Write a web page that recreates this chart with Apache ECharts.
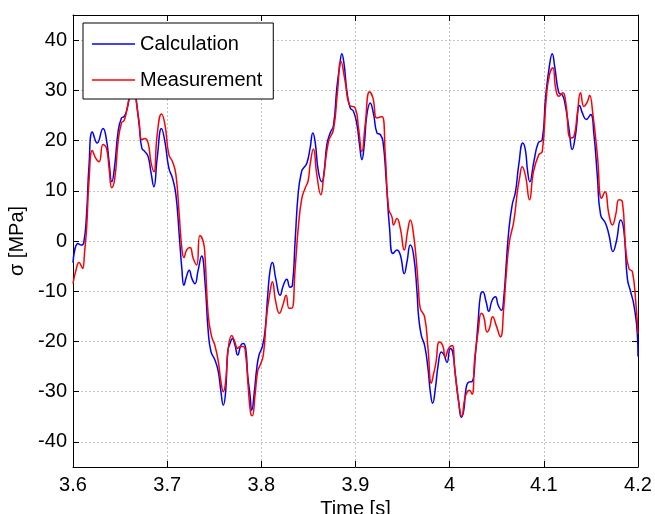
<!DOCTYPE html>
<html>
<head>
<meta charset="utf-8">
<script src="https://cdn.jsdelivr.net/npm/echarts@6/dist/echarts.min.js"></script>
<style>
html, body { margin: 0; padding: 0; background: #fff; }
#stress { width: 655px; height: 514px; }
</style>
</head>
<body>
<div id="stress"></div>
<script>
// time axis [s] and stress [MPa]
var calcTime = [3.6,3.6053,3.6089,3.6114,3.6143,3.6170,3.6206,3.6257,3.6319,3.6355,
    3.6383,3.6412,3.6444,3.6479,3.6515,3.6543,3.6568,3.6596,3.6619,3.6640,
    3.6656,3.6674,3.6702,3.6731,3.6763,3.6798,3.6827,3.6859,3.6894,3.6940,
    3.6976,3.7018,3.7057,3.7093,3.7128,3.7156,3.7178,3.7206,3.7234,3.7263,
    3.7295,3.7327,3.7366,3.7401,3.7436,3.7465,3.7507,3.7543,3.7571,3.7596,
    3.7621,3.7643,3.7667,3.7692,3.7720,3.7749,3.7784,3.7809,3.7834,3.7855,
    3.7880,3.7898,3.7926,3.7951,3.7976,3.8011,3.8039,3.8068,3.8093,3.8117,
    3.8153,3.8199,3.8234,3.8270,3.8305,3.8330,3.8359,3.8394,3.8430,3.8447,
    3.8483,3.8518,3.8547,3.8571,3.8606,3.8643,3.8667,3.8696,3.8731,3.8766,
    3.8802,3.8830,3.8855,3.8880,3.8909,3.8944,3.8979,3.9015,3.9043,3.9068,
    3.9093,3.9121,3.9156,3.9192,3.9228,3.9263,3.9292,3.9327,3.9362,3.9398,
    3.9440,3.9476,3.9518,3.9547,3.9582,3.9617,3.9653,3.9670,3.9699,3.9734,
    3.9770,3.9795,3.9819,3.9848,3.9877,3.9912,3.9940,3.9972,4.0007,4.0032,
    4.0061,4.0096,4.0124,4.0149,4.0174,4.0202,4.0238,4.0273,4.0302,4.0327,
    4.0351,4.0387,4.0415,4.0451,4.0486,4.0515,4.0550,4.0574,4.0600,4.0628,
    4.0664,4.0699,4.0734,4.0777,4.0805,4.0827,4.0851,4.0894,4.0940,4.0983,
    4.1018,4.1061,4.1089,4.1117,4.1160,4.1196,4.1223,4.1266,4.1302,4.1337,
    4.1380,4.1415,4.1451,4.1497,4.1532,4.1568,4.1603,4.1656,4.1692,4.1734,
    4.1770,4.1816,4.1851,4.1887,4.1922,4.1957,4.1994,4.2];
var calcSigma = [-4.3,-0.5,-0.8,-0.3,5,15,21.7,19.5,22.4,20.2,
    15.8,11.8,15.2,21.8,24.5,24.8,25.8,28.5,32,34,
    31,27.8,23.2,18.5,17.8,16.8,13.8,10.8,16.5,22.4,
    19.8,14.5,12.5,9.2,1.2,-5.5,-8.8,-7,-5.8,-7.5,
    -8.5,-6,-3,-8,-18,-22,-23.7,-26,-30,-32.7,
    -30,-22,-20.4,-19.4,-20.7,-22.7,-20.7,-20.4,-21.4,-26.7,
    -30.7,-33.7,-30,-25.4,-22.7,-21,-18,-10.8,-5.8,-4.3,
    -7.5,-10.8,-8.8,-7.6,-9.2,-8.8,0,10,14,14.5,
    15.5,18.5,21.5,19.8,13.8,11.8,13.8,19.2,21.5,23,
    30.5,34.5,37.3,35,29.8,26.5,25.8,23.2,19.2,16.2,
    19.2,25.2,27.5,25.2,21.5,21.2,19.8,11.8,2.5,-2.5,
    -1.8,-2.8,-6.5,-4.1,-0.8,-2.8,-10.1,-15,-18.8,-20.8,
    -25.4,-30.1,-32.3,-29.4,-24.8,-22.1,-22.7,-24.2,-21.4,-22.1,
    -26.7,-32.1,-35.1,-33.8,-29.4,-28.1,-28,-22.7,-16.1,-10.8,
    -10.1,-12.1,-14,-11.8,-11.1,-12.8,-13.8,-11.4,-4.8,2.1,
    7.2,9.8,15.2,19.5,18,14,11.8,15.8,19.5,20.2,
    28.5,35.1,37.3,34.5,29.5,29.1,27.5,22.5,18.2,21.2,
    27,25.2,24.2,25.2,21.2,13,5.2,3.5,1.2,-2.1,
    -0.1,4.2,1.9,-7.5,-10.1,-12.8,-18.8,-23];

var measTime = [3.6,3.6029,3.6064,3.6089,3.6103,3.6124,3.6146,3.6170,3.6206,3.6241,
    3.6277,3.6319,3.6355,3.6383,3.6412,3.6444,3.6479,3.6515,3.6543,3.6568,
    3.6596,3.6619,3.6640,3.6656,3.6674,3.6702,3.6731,3.6763,3.6798,3.6827,
    3.6859,3.6894,3.6940,3.6976,3.7018,3.7057,3.7093,3.7128,3.7156,3.7178,
    3.7206,3.7242,3.7277,3.7313,3.7348,3.7383,3.7401,3.7436,3.7472,3.7507,
    3.7543,3.7571,3.7596,3.7621,3.7649,3.7685,3.7713,3.7749,3.7773,3.7809,
    3.7834,3.7862,3.7887,3.7904,3.7933,3.7962,3.7986,3.8021,3.8057,3.8093,
    3.8117,3.8153,3.8192,3.8228,3.8263,3.8295,3.8323,3.8359,3.8394,3.8430,
    3.8465,3.8497,3.8518,3.8553,3.8589,3.8632,3.8660,3.8713,3.8766,3.8809,
    3.8845,3.8890,3.8936,3.8997,3.9032,3.9068,3.9103,3.9149,3.9185,3.9228,
    3.9281,3.9316,3.9351,3.9387,3.9404,3.9440,3.9476,3.9518,3.9553,3.9582,
    3.9617,3.9653,3.9670,3.9688,3.9734,3.9770,3.9805,3.9830,3.9855,3.9890,
    3.9926,3.9954,3.9989,4.0026,4.0053,4.0096,4.0128,4.0160,4.0185,4.0210,
    4.0238,4.0266,4.0302,4.0337,4.0362,4.0398,4.0422,4.0457,4.0494,4.0539,
    4.0574,4.0600,4.0635,4.0681,4.0720,4.0742,4.0770,4.0805,4.0848,4.0890,
    4.0947,4.0983,4.1026,4.1061,4.1096,4.1125,4.1160,4.1202,4.1231,4.1284,
    4.1319,4.1355,4.1390,4.1426,4.1462,4.1486,4.1521,4.1568,4.1614,4.1649,
    4.1692,4.1728,4.1763,4.1798,4.1834,4.1869,4.1904,4.1940,4.1976,4.2];
var measSigma = [-8.5,-6,-4.3,-5,-5.5,-2,3,12,18,16.5,
    15.8,19.2,18.5,14.5,10.6,12.5,19.8,23.5,24,25.8,
    28.5,31,33,31,27.5,23.8,20.2,20.4,19.5,15.8,
    13.8,21.2,25.3,23.2,17.2,15.8,13.2,5.2,-1.5,-3.3,
    -1.8,-1.3,-3.5,-4.8,1.1,-0.1,-2.8,-14.8,-19,-20.8,
    -24,-28,-30,-28,-21.4,-18.8,-19.8,-21.4,-21,-21,
    -22.7,-29.4,-34.4,-34.8,-30.7,-25.8,-24.8,-22.7,-14.8,-10.1,
    -8.1,-12.1,-14.4,-12.8,-10.8,-13.4,-13.4,-5.5,3,8.5,
    10.5,12,15.2,18.3,13.2,9.2,12.5,19.8,22.2,29.8,
    35.8,31.8,27.1,26.5,22.5,17.8,23.2,29.7,28.5,24.5,
    24.8,17.2,6.5,4.8,3.2,4.5,2.5,-1.8,1.9,4.2,
    1.2,-5.5,-10,-13.4,-15.1,-21.4,-28.3,-26.4,-24.1,-20.1,
    -20.8,-23.1,-21.4,-20.8,-25.4,-32.1,-34.9,-31.4,-30.1,-29.7,
    -30.5,-23.4,-18.1,-14.4,-15.1,-18.1,-17.4,-15.1,-16.8,-19.1,
    -13.4,-6.8,-0.1,3.9,10,12.5,14.8,13,8.2,13.8,
    17.2,17.8,28.5,33.2,34.5,30.5,28.8,29.5,27.8,20.5,
    20.8,25.2,29.5,26.8,27.7,29,25.2,17.2,8.5,9.8,
    5.2,3.2,5.2,8.2,7.8,-1.5,-5.5,-6.1,-12.1,-18.5];

var yTicks = [-40, -30, -20, -10, 0, 10, 20, 30, 40];

function pairs(t, v) {
    var out = [];
    for (var i = 0; i < t.length; i++) out.push([t[i], v[i]]);
    return out;
}

var font = "'Liberation Sans', Arial, sans-serif";
var black = '#000';
var gridLine = { show: true, lineStyle: { color: '#c4c4c4', width: 1, type: [2, 2] } };

function xAx(pos, main) {
    return {
        type: 'value', position: pos, min: 3.6, max: 4.2, interval: 0.1,
        axisLine: { show: true, onZero: false, lineStyle: { color: black, width: 1 } },
        axisTick: { show: true, inside: true, length: 6, lineStyle: { color: black } },
        axisLabel: {
            show: main, color: black, fontSize: 20, fontFamily: font, margin: 8,
            formatter: function (v) { return '' + (+v.toFixed(1)); }
        },
        splitLine: main ? gridLine : { show: false },
        name: main ? 'Time [s]' : '', nameLocation: 'middle', nameGap: 30,
        nameTextStyle: { color: black, fontSize: 20, fontFamily: font }
    };
}

function yAx(pos, main) {
    return {
        type: 'value', position: pos, min: -45, max: 45,
        axisLine: { show: true, onZero: false, lineStyle: { color: black, width: 1 } },
        axisTick: { show: true, inside: true, length: 6, customValues: yTicks, lineStyle: { color: black } },
        axisLabel: { show: main, customValues: yTicks, color: black, fontSize: 20, fontFamily: font, margin: 6 },
        splitLine: main ? gridLine : { show: false },
        name: main ? 'σ [MPa]' : '', nameLocation: 'middle', nameGap: 42,
        nameTextStyle: { color: black, fontSize: 20, fontFamily: font }
    };
}

var option = {
    animation: false,
    backgroundColor: '#fff',
    grid: { left: 73, right: 17, top: 15, bottom: 47, outerBoundsMode: 'none' },
    legend: {
        orient: 'vertical', left: 83, top: 23,
        backgroundColor: '#fff', borderColor: black, borderWidth: 1, borderRadius: 0,
        padding: [11, 11, 9, 9], itemGap: 16, itemWidth: 43, itemHeight: 1.5,
        icon: 'rect',
        textStyle: { color: black, fontSize: 20, fontFamily: font },
        data: ['Calculation', 'Measurement']
    },
    xAxis: [xAx('bottom', true), xAx('top', false)],
    yAxis: [yAx('left', true), yAx('right', false)],
    series: [{
        name: 'Calculation', type: 'line', xAxisIndex: 0, yAxisIndex: 0,
        data: pairs(calcTime, calcSigma),
        symbol: 'none', showSymbol: false, smooth: 0.5,
        lineStyle: { color: '#0000ff', width: 1.5 }, itemStyle: { color: '#0000ff' }
    }, {
        name: 'Measurement', type: 'line', xAxisIndex: 0, yAxisIndex: 0,
        data: pairs(measTime, measSigma),
        symbol: 'none', showSymbol: false, smooth: 0.5,
        lineStyle: { color: '#ff0000', width: 1.5 }, itemStyle: { color: '#ff0000' }
    }]
};

var chart = echarts.init(document.getElementById('stress'));
chart.setOption(option);
</script>
</body>
</html>
